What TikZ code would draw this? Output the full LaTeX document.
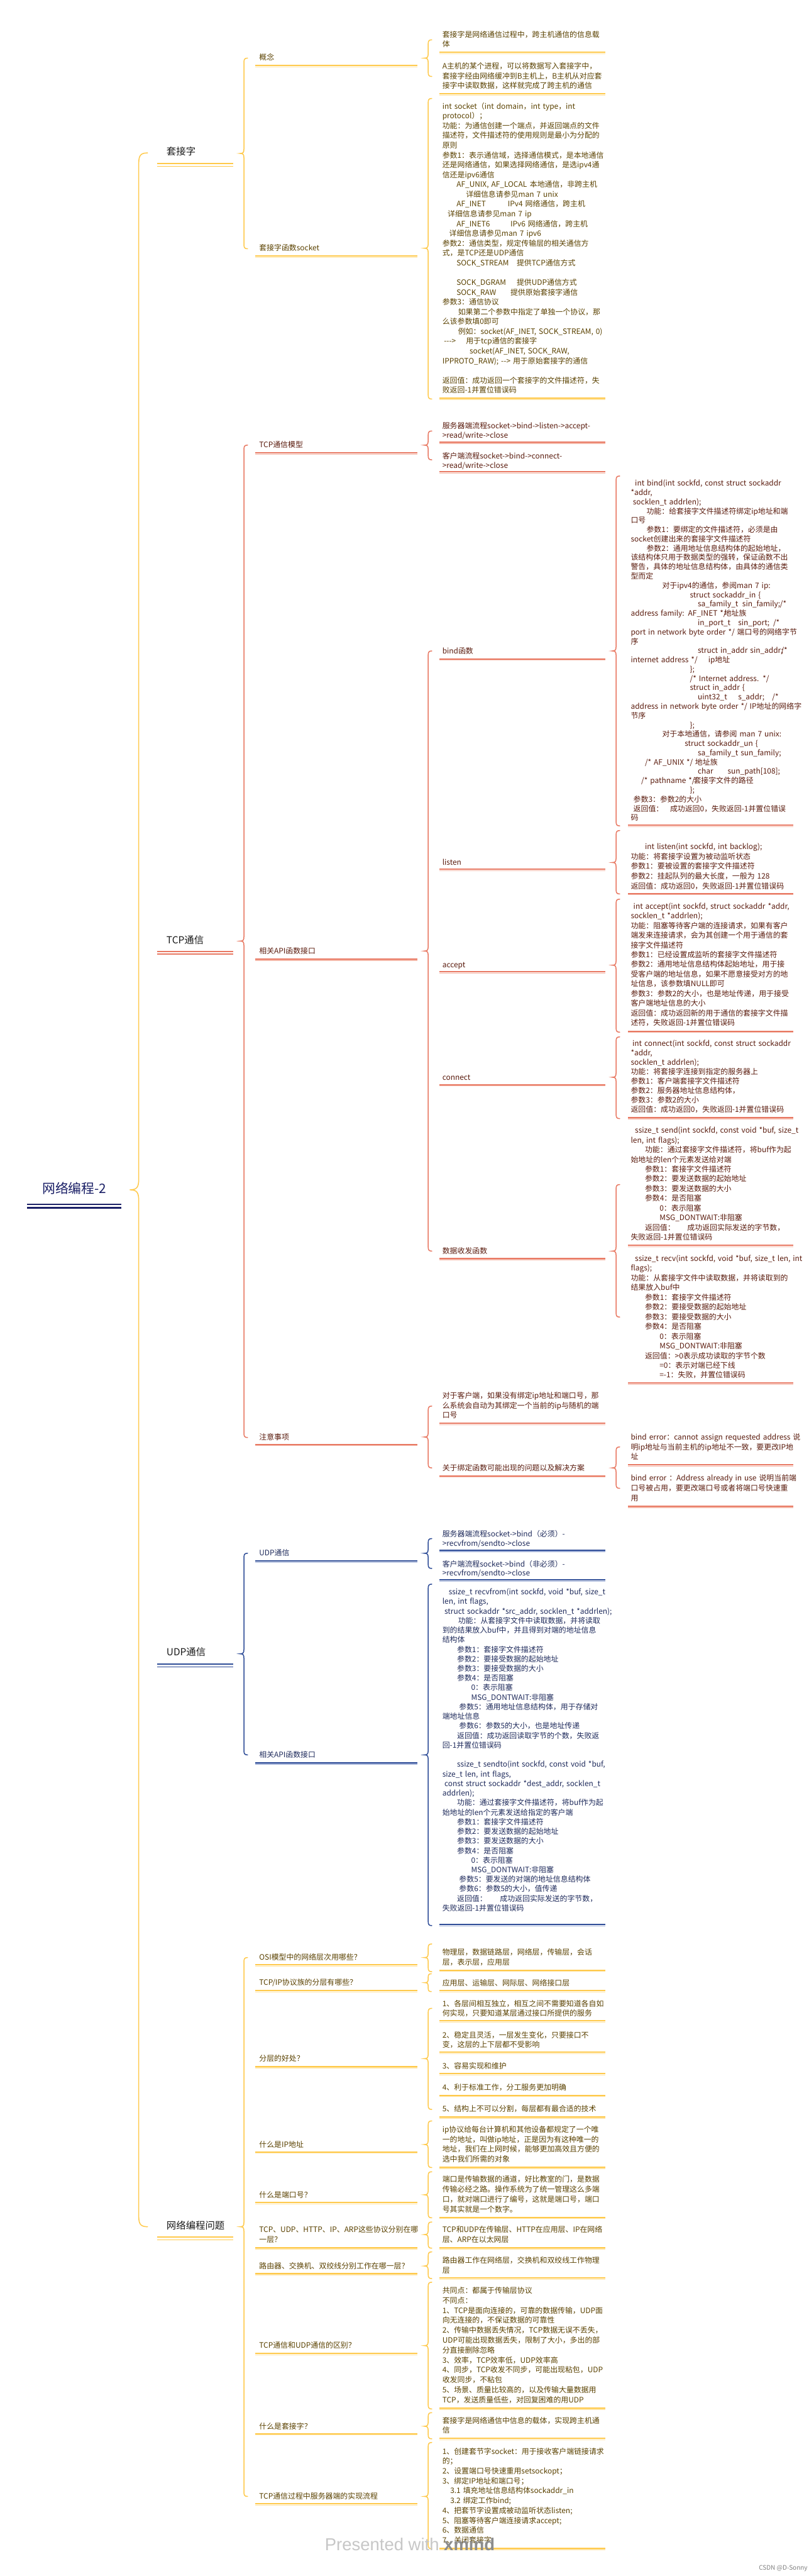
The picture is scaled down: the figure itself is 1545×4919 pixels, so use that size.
\documentclass[tikz,border=0pt]{standalone}
\usepackage{fontspec}
\setmainfont{Noto Sans CJK SC}[Ligatures=TeXOff]
\newfontfamily\wmfont{Liberation Sans}
\definecolor{ylc}{HTML}{FFC94A}
\definecolor{ylc2}{HTML}{FFE4A3}
\definecolor{ytc}{HTML}{5B4200}
\definecolor{rlc}{HTML}{E87862}
\definecolor{rlc2}{HTML}{F5B9AA}
\definecolor{rtc}{HTML}{5B1C0E}
\definecolor{blc}{HTML}{2E4C97}
\definecolor{blc2}{HTML}{A3B2D8}
\definecolor{btc}{HTML}{1F2B5C}
\definecolor{navyc}{HTML}{1A1F66}
\newcommand\ii[1]{\hspace*{#1pt}}
\newcommand\tb[2]{\makebox[#1pt][l]{#2}}
% brace: color, x, top, notch, bottom, size
\newcommand\mbr[6]{\draw[#1,line width=1.8pt,line cap=round] ({#2+#6},#3) .. controls ({#2+0.2*#6},#3) and (#2,{#3+0.3*#6}) .. (#2,{#3+1.2*#6}) -- (#2,{#4-1.2*#6}) .. controls (#2,{#4-0.3*#6}) and ({#2-0.2*#6},#4) .. ({#2-#6},#4) .. controls ({#2-0.2*#6},#4) and (#2,{#4+0.3*#6}) .. (#2,{#4+1.2*#6}) -- (#2,{#5-1.2*#6}) .. controls (#2,{#5-0.3*#6}) and ({#2+0.2*#6},#5) .. ({#2+#6},#5);}
% underline: color, light, x1, x2, y
\newcommand\uln[5]{\draw[#1,line width=2.4pt] (#3,#5) -- (#4,#5); \draw[#2,line width=1.6pt] (#3,{#5+2.6}) -- (#4,{#5+2.6});}
\newcommand\dul[3]{\draw[#1,line width=2pt] (300,#2) -- (445,#2); \draw[#1,line width=2pt] (300,#3) -- (445,#3);}
\tikzset{
 lf/.style={anchor=base west,inner sep=0pt,text width=420pt,align=left,font=\fontsize{14.3}{19}\selectfont},
 bs/.style={font=\fontsize{14.3}{#1}\selectfont},
 tY/.style={text=ytc}, tR/.style={text=rtc}, tB/.style={text=btc},
 lone/.style={anchor=base west,inner sep=0pt,font=\fontsize{18.5}{22}\selectfont,text=black!90},
}
\begin{document}
\begin{tikzpicture}[x=1pt,y=-1pt]
\useasboundingbox (0,0) rectangle (1545,4919);
\fill[white] (0,0) rectangle (1545,4919);

% ---------- braces ----------
\mbr{ylc}{265}{292}{2272}{4252}{17}
% level 2
\mbr{ylc}{466}{111}{293}{475}{7}
\mbr{rlc}{466}{850}{1797}{2745}{7}
\mbr{blc}{466}{2966}{3158}{3351}{7}
\mbr{ylc}{466}{3738}{4252}{4767}{7}
% level 3
\mbr{ylc}{818}{76}{111}{146}{7}
\mbr{ylc}{818}{188}{474}{762}{7}
\mbr{rlc}{818}{823}{850}{878}{7}
\mbr{rlc}{818}{1243}{1816}{2389}{7}
\mbr{rlc}{818}{2685}{2744}{2803}{7}
\mbr{blc}{818}{2938}{2966}{2995}{7}
\mbr{blc}{818}{3025}{3351}{3677}{7}
\mbr{ylc}{818}{3712}{3738}{3765}{7}
\mbr{ylc}{818}{3769}{3786}{3803}{6}
\mbr{ylc}{818}{3835}{3931}{4028}{7}
\mbr{ylc}{818}{4050}{4095}{4139}{7}
\mbr{ylc}{818}{4147}{4191}{4235}{7}
\mbr{ylc}{818}{4243}{4267}{4293}{7}
\mbr{ylc}{818}{4300}{4327}{4351}{7}
\mbr{ylc}{818}{4358}{4479}{4600}{7}
\mbr{ylc}{818}{4607}{4633}{4657}{7}
\mbr{ylc}{818}{4664}{4767}{4867}{7}
% level 4
\mbr{rlc}{1177}{909}{1243}{1577}{7}
\mbr{rlc}{1177}{1586}{1647}{1707}{7}
\mbr{rlc}{1177}{1717}{1843}{1971}{7}
\mbr{rlc}{1177}{1980}{2057}{2136}{7}
\mbr{rlc}{1177}{2262}{2389}{2515}{7}
\mbr{rlc}{1177}{2763}{2803}{2842}{7}

% ---------- underlines ----------
\draw[navyc,line width=3pt] (52,2300) -- (232,2300);
\draw[navyc,line width=3pt] (52,2306.5) -- (232,2306.5);
\dul{ylc}{312.5}{317.5}
\dul{rlc}{1817}{1822}
\dul{blc}{3178}{3183}
\dul{ylc}{4272}{4277}
% level 2
\uln{ylc}{ylc2}{488}{797}{125}
\uln{ylc}{ylc2}{488}{797}{489}
\uln{rlc}{rlc2}{488}{797}{865}
\uln{rlc}{rlc2}{488}{797}{1831}
\uln{rlc}{rlc2}{488}{797}{2758}
\uln{blc}{blc2}{488}{797}{2981}
\uln{blc}{blc2}{488}{797}{3366}
\uln{ylc}{ylc2}{488}{797}{3752}
\uln{ylc}{ylc2}{488}{797}{3801}
\uln{ylc}{ylc2}{488}{797}{3946}
\uln{ylc}{ylc2}{488}{797}{4109}
\uln{ylc}{ylc2}{488}{797}{4206}
\uln{ylc}{ylc2}{488}{797}{4292}
\uln{ylc}{ylc2}{488}{797}{4341}
\uln{ylc}{ylc2}{488}{797}{4494}
\uln{ylc}{ylc2}{488}{797}{4647}
\uln{ylc}{ylc2}{488}{797}{4781}
% level 3
\uln{ylc}{ylc2}{840}{1156}{100}
\uln{ylc}{ylc2}{840}{1156}{179}
\uln{ylc}{ylc2}{840}{1156}{760}
\uln{rlc}{rlc2}{840}{1156}{844}
\uln{rlc}{rlc2}{840}{1156}{901}
\uln{rlc}{rlc2}{840}{1156}{1258}
\uln{rlc}{rlc2}{840}{1156}{1660}
\uln{rlc}{rlc2}{840}{1156}{1856}
\uln{rlc}{rlc2}{840}{1156}{2071}
\uln{rlc}{rlc2}{840}{1156}{2403}
\uln{rlc}{rlc2}{840}{1156}{2718}
\uln{rlc}{rlc2}{840}{1156}{2818}
\uln{blc}{blc2}{840}{1156}{2960}
\uln{blc}{blc2}{840}{1156}{3017}
\uln{blc}{blc2}{840}{1156}{3675}
\uln{ylc}{ylc2}{840}{1156}{3762}
\uln{ylc}{ylc2}{840}{1156}{3801}
\uln{ylc}{ylc2}{840}{1156}{3859}
\uln{ylc}{ylc2}{840}{1156}{3919}
\uln{ylc}{ylc2}{840}{1156}{3960}
\uln{ylc}{ylc2}{840}{1156}{4001}
\uln{ylc}{ylc2}{840}{1156}{4042}
\uln{ylc}{ylc2}{840}{1156}{4138}
\uln{ylc}{ylc2}{840}{1156}{4234}
\uln{ylc}{ylc2}{840}{1156}{4292}
\uln{ylc}{ylc2}{840}{1156}{4350}
\uln{ylc}{ylc2}{840}{1156}{4598}
\uln{ylc}{ylc2}{840}{1156}{4656}
\uln{ylc}{ylc2}{840}{1156}{4866}
% level 4
\uln{rlc}{rlc2}{1200}{1516}{1576}
\uln{rlc}{rlc2}{1200}{1516}{1706}
\uln{rlc}{rlc2}{1200}{1516}{1969}
\uln{rlc}{rlc2}{1200}{1516}{2134}
\uln{rlc}{rlc2}{1200}{1516}{2378}
\uln{rlc}{rlc2}{1200}{1516}{2641}
\uln{rlc}{rlc2}{1200}{1516}{2797}
\uln{rlc}{rlc2}{1200}{1516}{2876}

% ---------- root & level 1 ----------
\node[anchor=base,inner sep=0pt,font=\fontsize{25}{29}\selectfont,text=navyc] (root) at (142,2279) {网络编程-2};
\node[lone] (a) at (318,296.5) {套接字};
\node[lone] (b) at (318,1801.5) {TCP通信};
\node[lone] (c) at (318,3161.5) {UDP通信};
\node[lone] (d) at (318,4256.5) {网络编程问题};

% ---------- 套接字 ----------
\node[lf,tY] (a1) at (495,115) {概念};
\node[lf,tY] (a2) at (495,479) {套接字函数socket};
\node[lf,tY,bs=18] (a11) at (845,72) {套接字是网络通信过程中，跨主机通信的信息载\\体};
\node[lf,tY,bs=18.5] (a12) at (845,132) {A主机的某个进程，可以将数据写入套接字中，\\套接字经由网络缓冲到B主机上，B主机从对应套\\接字中读取数据，这样就完成了跨主机的通信};
\node[lf,tY,bs=18.7] (a21) at (845,208) {int socket（int domain，int type，int\\
protocol）；\\
功能：为通信创建一个端点，并返回端点的文件\\
描述符，文件描述符的使用规则是最小为分配的\\
原则\\
参数1：表示通信域，选择通信模式，是本地通信\\
还是网络通信，如果选择网络通信，是选ipv4通\\
信还是ipv6通信\\
\ii{27}\tb{140}{AF\_UNIX, AF\_LOCAL}本地通信，非跨主机\\
\ii{45}详细信息请参见man 7 unix\\
\ii{27}\tb{98}{AF\_INET}IPv4 网络通信，跨主机\\
\ii{10}详细信息请参见man 7 ip\\
\ii{27}\tb{103}{AF\_INET6}IPv6 网络通信，跨主机\\
\ii{13}详细信息请参见man 7 ipv6\\
参数2：通信类型，规定传输层的相关通信方\\
式，是TCP还是UDP通信\\
\ii{27}\tb{115}{SOCK\_STREAM}提供TCP通信方式\\
\mbox{}\\
\ii{27}\tb{115}{SOCK\_DGRAM}提供UDP通信方式\\
\ii{27}\tb{103}{SOCK\_RAW}提供原始套接字通信\\
参数3：通信协议\\
\ii{30}如果第二个参数中指定了单独一个协议，那\\
么该参数填0即可\\
\ii{30}例如：socket(AF\_INET, SOCK\_STREAM, 0)\\
\ii{3}\tb{42}{--->}用于tcp通信的套接字\\
\ii{52}socket(AF\_INET, SOCK\_RAW,\\
IPPROTO\_RAW); --> 用于原始套接字的通信\\
\mbox{}\\
返回值：成功返回一个套接字的文件描述符，失\\
败返回-1并置位错误码};

% ---------- TCP通信 ----------
\node[lf,tR] (b1) at (495,855) {TCP通信模型};
\node[lf,tR] (b2) at (495,1821) {相关API函数接口};
\node[lf,tR] (b3) at (495,2749) {注意事项};
\node[lf,tR,bs=18] (b11) at (845,818) {服务器端流程socket->bind->listen->accept-\\>read/write->close};
\node[lf,tR,bs=17.5] (b12) at (845,876) {客户端流程socket->bind->connect-\\>read/write->close};
\node[lf,tR] (b21) at (845,1248) {bind函数};
\node[lf,tR] (b22) at (845,1652) {listen};
\node[lf,tR] (b23) at (845,1848) {accept};
\node[lf,tR] (b24) at (845,2062) {connect};
\node[lf,tR] (b25) at (845,2394) {数据收发函数};
\node[lf,tR,bs=19] (b31) at (845,2670) {对于客户端，如果没有绑定ip地址和端口号，那\\么系统会自动为其绑定一个当前的ip与随机的端\\口号};
\node[lf,tR] (b32) at (845,2808) {关于绑定函数可能出现的问题以及解决方案};

\node[lf,tR,bs=17.75] (b211) at (1205,928) {\ii{8}int bind(int sockfd, const struct sockaddr\\
{}*addr,\\
\ii{4}socklen\_t addrlen);\\
\ii{30}功能：给套接字文件描述符绑定ip地址和端\\
口号\\
\ii{30}参数1：要绑定的文件描述符，必须是由\\
socket创建出来的套接字文件描述符\\
\ii{30}参数2：通用地址信息结构体的起始地址，\\
该结构体只用于数据类型的强转，保证函数不出\\
警告，具体的地址信息结构体，由具体的通信类\\
型而定\\
\ii{60}对于ipv4的通信，参阅man 7 ip:\\
\ii{113}struct sockaddr\_in \{\\
\ii{128}\tb{85}{sa\_family\_t}\tb{72}{sin\_family;}/*\\
\tb{178}{address family: AF\_INET */}地址族\\
\ii{128}\tb{77}{in\_port\_t}\tb{67}{sin\_port;}/*\\
port in network byte order */ 端口号的网络字节\\
序\\
\ii{128}\tb{159}{struct in\_addr sin\_addr;}/*\\
\tb{148}{internet address */}ip地址\\
\ii{113}\};\\
\ii{113}/* Internet address. */\\
\ii{113}struct in\_addr \{\\
\ii{128}\tb{77}{uint32\_t}\tb{65}{s\_addr;}/*\\
address in network byte order */ IP地址的网络字\\
节序\\
\ii{113}\};\\
\ii{60}对于本地通信，请参阅 man 7 unix:\\
\ii{103}struct sockaddr\_un \{\\
\ii{128}sa\_family\_t sun\_family;\\
\ii{27}\tb{96}{/* AF\_UNIX */}地址族\\
\ii{128}\tb{57}{char}sun\_path[108];\\
\ii{20}\tb{100}{/* pathname */}套接字文件的路径\\
\ii{113}\};\\
\ii{5}参数3：参数2的大小\\
\ii{5}\tb{70}{返回值：}成功返回0，失败返回-1并置位错误\\
码};

\node[lf,tR,bs=18.8] (b221) at (1205,1603) {\mbox{}\\
\ii{27}int listen(int sockfd, int backlog);\\
功能：将套接字设置为被动监听状态\\
参数1：要被设置的套接字文件描述符\\
参数2：挂起队列的最大长度，一般为 128\\
返回值：成功返回0，失败返回-1并置位错误码};

\node[lf,tR,bs=18.5] (b231) at (1205,1736) {\ii{5}int accept(int sockfd, struct sockaddr *addr,\\
socklen\_t *addrlen);\\
功能：阻塞等待客户端的连接请求，如果有客户\\
端发来连接请求，会为其创建一个用于通信的套\\
接字文件描述符\\
参数1：已经设置成监听的套接字文件描述符\\
参数2：通用地址信息结构体起始地址，用于接\\
受客户端的地址信息，如果不愿意接受对方的地\\
址信息，该参数填NULL即可\\
参数3：参数2的大小，也是地址传递，用于接受\\
客户端地址信息的大小\\
返回值：成功返回新的用于通信的套接字文件描\\
述符，失败返回-1并置位错误码};

\node[lf,tR,bs=18] (b241) at (1205,1998) {\ii{3}int connect(int sockfd, const struct sockaddr\\
{}*addr,\\
socklen\_t addrlen);\\
功能：将套接字连接到指定的服务器上\\
参数1：客户端套接字文件描述符\\
参数2：服务器地址信息结构体，\\
参数3：参数2的大小\\
返回值：成功返回0，失败返回-1并置位错误码};

\node[lf,tR,bs=18.5] (b251) at (1205,2164) {\ii{8}ssize\_t send(int sockfd, const void *buf, size\_t\\
len, int flags);\\
\ii{27}功能：通过套接字文件描述符，将buf作为起\\
始地址的len个元素发送给对端\\
\ii{27}参数1：套接字文件描述符\\
\ii{27}参数2：要发送数据的起始地址\\
\ii{27}参数3：要发送数据的大小\\
\ii{27}参数4：是否阻塞\\
\ii{55}0：表示阻塞\\
\ii{55}MSG\_DONTWAIT:非阻塞\\
\ii{27}\tb{81}{返回值：}成功返回实际发送的字节数，\\
失败返回-1并置位错误码};

\node[lf,tR,bs=18.6] (b252) at (1205,2408) {\ii{8}ssize\_t recv(int sockfd, void *buf, size\_t len, int\\
flags);\\
功能：从套接字文件中读取数据，并将读取到的\\
结果放入buf中\\
\ii{27}参数1：套接字文件描述符\\
\ii{27}参数2：要接受数据的起始地址\\
\ii{27}参数3：要接受数据的大小\\
\ii{27}参数4：是否阻塞\\
\ii{55}0：表示阻塞\\
\ii{55}MSG\_DONTWAIT:非阻塞\\
\ii{27}返回值：>0表示成功读取的字节个数\\
\ii{55}=0：表示对端已经下线\\
\ii{55}=-1：失败，并置位错误码};

\node[lf,tR,bs=18.5] (b321) at (1205,2750) {bind error：cannot assign requested address  说\\明ip地址与当前主机的ip地址不一致，要更改IP地\\址};
\node[lf,tR,bs=19] (b322) at (1205,2828) {bind error ：Address already in use 说明当前端\\口号被占用，要更改端口号或者将端口号快速重\\用};

% ---------- UDP通信 ----------
\node[lf,tB] (c1) at (495,2971) {UDP通信};
\node[lf,tB] (c2) at (495,3356) {相关API函数接口};
\node[lf,tB,bs=17] (c11) at (845,2935) {服务器端流程socket->bind（必须）-\\>recvfrom/sendto->close};
\node[lf,tB,bs=17] (c12) at (845,2992) {客户端流程socket->bind（非必须）-\\>recvfrom/sendto->close};
\node[lf,tB,bs=18.3] (c21) at (845,3045) {\ii{12}ssize\_t recvfrom(int sockfd, void *buf, size\_t\\
len, int flags,\\
\ii{4}struct sockaddr *src\_addr, socklen\_t *addrlen);\\
\ii{30}功能：从套接字文件中读取数据，并将读取\\
到的结果放入buf中，并且得到对端的地址信息\\
结构体\\
\ii{28}参数1：套接字文件描述符\\
\ii{28}参数2：要接受数据的起始地址\\
\ii{28}参数3：要接受数据的大小\\
\ii{28}参数4：是否阻塞\\
\ii{55}0：表示阻塞\\
\ii{55}MSG\_DONTWAIT:非阻塞\\
\ii{32}参数5：通用地址信息结构体，用于存储对\\
端地址信息\\
\ii{32}参数6：参数5的大小，也是地址传递\\
\ii{28}返回值：成功返回读取字节的个数，失败返\\
回-1并置位错误码\\
\mbox{}\\
\ii{28}ssize\_t sendto(int sockfd, const void *buf,\\
size\_t len, int flags,\\
\ii{4}const struct sockaddr *dest\_addr, socklen\_t\\
addrlen);\\
\ii{28}功能：通过套接字文件描述符，将buf作为起\\
始地址的len个元素发送给指定的客户端\\
\ii{28}参数1：套接字文件描述符\\
\ii{28}参数2：要发送数据的起始地址\\
\ii{28}参数3：要发送数据的大小\\
\ii{28}参数4：是否阻塞\\
\ii{55}0：表示阻塞\\
\ii{55}MSG\_DONTWAIT:非阻塞\\
\ii{32}参数5：要发送的对端的地址信息结构体\\
\ii{32}参数6：参数5的大小，值传递\\
\ii{28}\tb{82}{返回值：}成功返回实际发送的字节数，\\
失败返回-1并置位错误码};

% ---------- 网络编程问题 ----------
\node[lf,tY] (d1) at (495,3743) {OSI模型中的网络层次用哪些？};
\node[lf,tY] (d2) at (495,3791) {TCP/IP协议族的分层有哪些？};
\node[lf,tY] (d3) at (495,3936) {分层的好处？};
\node[lf,tY] (d4) at (495,4100) {什么是IP地址};
\node[lf,tY] (d5) at (495,4196) {什么是端口号？};
\node[lf,tY,bs=19] (d6) at (495,4263) {TCP、UDP、HTTP、IP、ARP这些协议分别在哪\\一层？};
\node[lf,tY] (d7) at (495,4332) {路由器、交换机、双绞线分别工作在哪一层？};
\node[lf,tY] (d8) at (495,4484) {TCP通信和UDP通信的区别？};
\node[lf,tY] (d9) at (495,4638) {什么是套接字？};
\node[lf,tY] (d10) at (495,4772) {TCP通信过程中服务器端的实现流程};

\node[lf,tY,bs=19] (d11) at (845,3733) {物理层，数据链路层，网络层，传输层，会话\\层，表示层，应用层};
\node[lf,tY] (d21) at (845,3792) {应用层、运输层、网际层、网络接口层};
\node[lf,tY,bs=18] (d31) at (845,3831) {1、各层间相互独立，相互之间不需要知道各自如\\何实现，只要知道某层通过接口所提供的服务};
\node[lf,tY,bs=18] (d32) at (845,3891) {2、稳定且灵活，一层发生变化，只要接口不\\变，这层的上下层都不受影响};
\node[lf,tY] (d33) at (845,3951) {3、容易实现和维护};
\node[lf,tY] (d34) at (845,3991) {4、利于标准工作，分工服务更加明确};
\node[lf,tY] (d35) at (845,4032) {5、结构上不可以分割，每层都有最合适的技术};
\node[lf,tY,bs=18.7] (d41) at (845,4072) {ip协议给每台计算机和其他设备都规定了一个唯\\一的地址，叫做ip地址，正是因为有这种唯一的\\地址，我们在上网时候，能够更加高效且方便的\\选中我们所需的对象};
\node[lf,tY,bs=19] (d51) at (845,4167) {端口是传输数据的通道，好比教室的门，是数据\\传输必经之路。操作系统为了统一管理这么多端\\口，就对端口进行了编号，这就是端口号，端口\\号其实就是一个数字。};
\node[lf,tY,bs=19] (d61) at (845,4263) {TCP和UDP在传输层、HTTP在应用层、IP在网络\\层、ARP在以太网层};
\node[lf,tY,bs=19] (d71) at (845,4322) {路由器工作在网络层，交换机和双绞线工作物理\\层};
\node[lf,tY,bs=19] (d81) at (845,4379) {共同点：都属于传输层协议\\
不同点：\\
1、TCP是面向连接的，可靠的数据传输，UDP面\\
向无连接的，不保证数据的可靠性\\
2、传输中数据丢失情况，TCP数据无误不丢失，\\
UDP可能出现数据丢失，限制了大小，多出的部\\
分直接删除忽略\\
3、效率，TCP效率低，UDP效率高\\
4、同步，TCP收发不同步，可能出现粘包，UDP\\
收发同步，不粘包\\
5、场景、质量比较高的，以及传输大量数据用\\
TCP，发送质量低些，对回复困难的用UDP};
\node[lf,tY,bs=18] (d91) at (845,4628) {套接字是网络通信中信息的载体，实现跨主机通\\信};
\node[lf,tY,bs=18.9] (d101) at (845,4686) {1、创建套节字socket：用于接收客户端链接请求\\
的；\\
2、设置端口号快速重用setsockopt；\\
3、绑定IP地址和端口号；\\
\ii{15}3.1 填充地址信息结构体sockaddr\_in\\
\ii{15}3.2 绑定工作bind;\\
4、把套节字设置成被动监听状态listen;\\
5、阻塞等待客户端连接请求accept;\\
6、数据通信\\
7、关闭套接字};

% ---------- watermark ----------
\node[anchor=base,inner sep=0pt,font=\wmfont\fontsize{33}{36}\selectfont] (wm) at (783,4870) {\textcolor{black!22}{Presented with }\textcolor{black!45}{\bfseries xmind}};
\node[anchor=base east,inner sep=0pt,font=\fontsize{12}{14}\selectfont,text=black!50] (csdn) at (1543,4907) {CSDN @D-Sonny};
\end{tikzpicture}
\end{document}
